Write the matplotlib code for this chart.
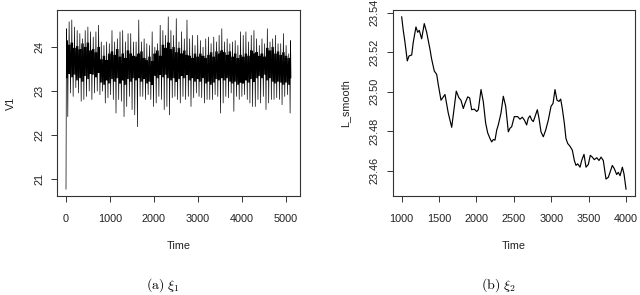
import matplotlib
matplotlib.use('Agg')
import matplotlib.pyplot as plt
import numpy as np

# ---- panel (a): V1, dense noisy series (spike tips and dark band edges)
v1_start = 20.77
v1_high = [24.42, 24.58, 24.62, 24.46, 24.38, 24.31, 24.19, 24.38, 24.46, 24.35,
           24.23, 24.35, 24.50, 24.12, 24.04, 24.12, 24.08, 24.38, 24.12, 24.19,
           24.35, 24.38, 24.12, 24.31, 24.31, 24.12, 24.12, 24.62, 24.12, 24.19,
           24.08, 24.04, 24.35, 24.00, 24.08, 24.50, 24.38, 24.27, 24.69, 24.38,
           24.27, 24.65, 24.12, 24.35, 24.19, 24.62, 24.19, 24.27, 24.04, 24.27,
           24.15, 24.00, 24.19, 24.23, 24.08, 24.23, 24.12, 24.27, 24.42, 24.12,
           24.19, 24.08, 24.12, 24.15, 24.04, 24.35, 24.27, 24.35, 24.12, 24.27,
           24.38, 24.19, 24.04, 24.19, 24.08, 24.42, 24.12, 24.19, 24.27, 24.08,
           24.08, 24.31, 24.04, 23.85]
v1_low = [22.42, 22.96, 22.88, 23.08, 22.96, 22.77, 22.81, 22.88, 23.00, 22.81,
          22.96, 23.00, 22.92, 23.00, 22.73, 22.85, 22.92, 22.81, 22.50, 22.81,
          22.77, 22.42, 22.65, 22.88, 22.58, 22.46, 22.19, 22.88, 22.88, 22.81,
          22.92, 22.81, 22.65, 22.73, 22.88, 22.81, 22.58, 22.65, 22.46, 22.85,
          22.88, 22.81, 22.73, 22.88, 22.81, 22.88, 22.65, 22.85, 22.96, 22.88,
          22.85, 22.73, 22.81, 22.81, 22.81, 22.92, 22.88, 22.50, 22.73, 22.88,
          22.85, 22.96, 22.54, 22.88, 22.81, 22.88, 22.92, 22.81, 22.73, 22.65,
          22.65, 22.81, 22.73, 22.88, 22.58, 22.73, 22.81, 22.81, 22.85, 22.81,
          22.69, 22.88, 22.92, 22.50]
v1_band_hi = [24.15, 24.05, 24.10, 23.98, 24.02, 23.95, 24.08, 24.00, 24.10, 23.92,
              23.95, 23.88, 24.00, 23.72, 23.80, 23.70, 23.85, 23.90, 23.82, 23.95,
              23.78, 23.85, 23.75, 23.92, 23.85, 23.80, 23.78, 23.85, 23.90, 23.75,
              23.70, 23.78, 23.68, 23.85, 23.92, 23.80, 24.05, 23.98, 24.10, 23.95,
              24.00, 23.88, 23.98, 23.85, 23.92, 23.82, 23.80, 23.75, 23.85, 23.78,
              23.85, 23.80, 23.75, 23.82, 23.88, 23.78, 23.90, 23.85, 23.92, 23.88,
              23.82, 23.90, 23.78, 23.85, 23.75, 23.82, 23.78, 23.85, 23.80, 23.92,
              23.85, 23.88, 23.80, 23.85, 23.78, 23.98, 23.92, 24.00, 23.85, 23.90,
              23.82, 23.88, 23.80, 23.75]
v1_band_lo = [23.30, 23.40, 23.32, 23.38, 23.25, 23.30, 23.22, 23.35, 23.28, 23.40,
              23.38, 23.32, 23.42, 23.20, 23.15, 23.25, 23.18, 23.28, 23.22, 23.30,
              23.18, 23.25, 23.15, 23.28, 23.22, 23.30, 23.25, 23.30, 23.22, 23.28,
              23.18, 23.22, 23.15, 23.35, 23.30, 23.38, 23.32, 23.38, 23.30, 23.25,
              23.30, 23.22, 23.28, 23.35, 23.30, 23.38, 23.25, 23.30, 23.22, 23.28,
              23.22, 23.30, 23.18, 23.22, 23.15, 23.20, 23.28, 23.25, 23.30, 23.25,
              23.30, 23.22, 23.18, 23.22, 23.15, 23.20, 23.18, 23.25, 23.20, 23.28,
              23.22, 23.30, 23.35, 23.30, 23.38, 23.25, 23.30, 23.22, 23.18, 23.22,
              23.20, 23.15, 23.20, 23.15]
v1_n = 5113

# ---- panel (b): L_smooth
ls_time = [1000, 1021, 1044, 1075, 1098, 1134, 1155, 1191, 1214, 1235, 1267, 1302,
           1334, 1378, 1401, 1436, 1468, 1489, 1526, 1548, 1579, 1623, 1669, 1699,
           1730, 1766, 1793, 1824, 1847, 1883, 1909, 1936, 1971, 2003, 2025, 2061,
           2091, 2123, 2150, 2181, 2204, 2225, 2248, 2271, 2292, 2328, 2359, 2391,
           2426, 2448, 2471, 2506, 2551, 2582, 2613, 2640, 2671, 2693, 2716, 2739,
           2760, 2783, 2814, 2836, 2863, 2894, 2926, 2961, 2997, 3024, 3050, 3077,
           3104, 3126, 3148, 3175, 3197, 3220, 3251, 3282, 3309, 3331, 3354, 3385,
           3407, 3438, 3465, 3496, 3522, 3549, 3576, 3608, 3639, 3666, 3696, 3732,
           3763, 3786, 3817, 3844, 3875, 3897, 3920, 3951, 3973, 4000]
ls_value = [23.5378, 23.5310, 23.5250, 23.5155, 23.5180, 23.5185, 23.5250, 23.5327,
            23.5300, 23.5310, 23.5267, 23.5344, 23.5300, 23.5215, 23.5164, 23.5104,
            23.5087, 23.5036, 23.4956, 23.4968, 23.4985, 23.4891, 23.4819, 23.4908,
            23.5002, 23.4968, 23.4956, 23.4914, 23.4940, 23.4973, 23.4968, 23.4908,
            23.4911, 23.4899, 23.4908, 23.5010, 23.4950, 23.4840, 23.4791, 23.4762,
            23.4745, 23.4757, 23.4754, 23.4805, 23.4831, 23.4891, 23.4976, 23.4925,
            23.4796, 23.4814, 23.4822, 23.4873, 23.4873, 23.4860, 23.4870, 23.4856,
            23.4831, 23.4865, 23.4877, 23.4856, 23.4848, 23.4873, 23.4908, 23.4865,
            23.4796, 23.4771, 23.4805, 23.4856, 23.4925, 23.4940, 23.5010, 23.4956,
            23.4950, 23.4962, 23.4914, 23.4840, 23.4762, 23.4737, 23.4723, 23.4703,
            23.4651, 23.4626, 23.4634, 23.4617, 23.4651, 23.4682, 23.4617, 23.4631,
            23.4677, 23.4668, 23.4655, 23.4665, 23.4651, 23.4668, 23.4651, 23.4557,
            23.4566, 23.4591, 23.4626, 23.4609, 23.4580, 23.4591, 23.4574, 23.4617,
            23.4583, 23.4506]

# interleave spike tips with band readings so the line looks like the dense original
n = len(v1_high)
seq = [v1_start]
for i in range(n):
    j = (i + 1) % n
    seq += [v1_high[i], v1_band_lo[i], v1_band_hi[i], v1_low[i], v1_band_hi[j], v1_band_lo[j]]
v1 = np.array(seq)
v1_t = np.linspace(1, v1_n, len(v1))

plt.rcParams['font.family'] = ['Liberation Sans', 'DejaVu Sans']
plt.rcParams['mathtext.fontset'] = 'cm'

fig = plt.figure(figsize=(6.4, 2.95), dpi=100)
ax1 = fig.add_axes([57 / 640, 1 - 196 / 295, 243 / 640, 186 / 295])
ax2 = fig.add_axes([392.7 / 640, 1 - 196 / 295, 242.3 / 640, 186 / 295])

ax1.plot(v1_t, v1, color='black', lw=0.5)
ax2.plot(ls_time, ls_value, color='black', lw=0.85)

for ax in (ax1, ax2):
    ax.margins(0.04)
    for s in ax.spines.values():
        s.set_color('#333333')
        s.set_linewidth(0.8)
    ax.tick_params(direction='out', length=4.2, width=0.7, color='#333333',
                   labelsize=7.8, labelcolor='#222222')
    ax.tick_params(axis='x', pad=9)
    ax.tick_params(axis='y', pad=5)
    ax.set_xlabel('Time', fontsize=7.8, color='#222222', labelpad=12)

ax1.set_xticks([0, 1000, 2000, 3000, 4000, 5000])
ax1.set_yticks([21, 22, 23, 24])
ax1.set_yticklabels(['21', '22', '23', '24'], rotation=90, va='center')
ax1.set_ylabel('V1', fontsize=7.8, color='#222222', labelpad=13.5)

ax2.set_xticks([1000, 1500, 2000, 2500, 3000, 3500, 4000])
yt = [23.46, 23.48, 23.50, 23.52, 23.54]
ax2.set_yticks(yt)
ax2.set_yticklabels(['%.2f' % v for v in yt], rotation=90, va='center')
ax2.set_ylabel('L_smooth', fontsize=7.8, color='#222222', labelpad=14)

fig.text(163 / 640, 1 - 285 / 295, r'$\mathrm{(a)}\ \xi_1$', ha='center', va='center', fontsize=10)
fig.text(498 / 640, 1 - 285 / 295, r'$\mathrm{(b)}\ \xi_2$', ha='center', va='center', fontsize=10)

fig.savefig('out.png', dpi=100)
